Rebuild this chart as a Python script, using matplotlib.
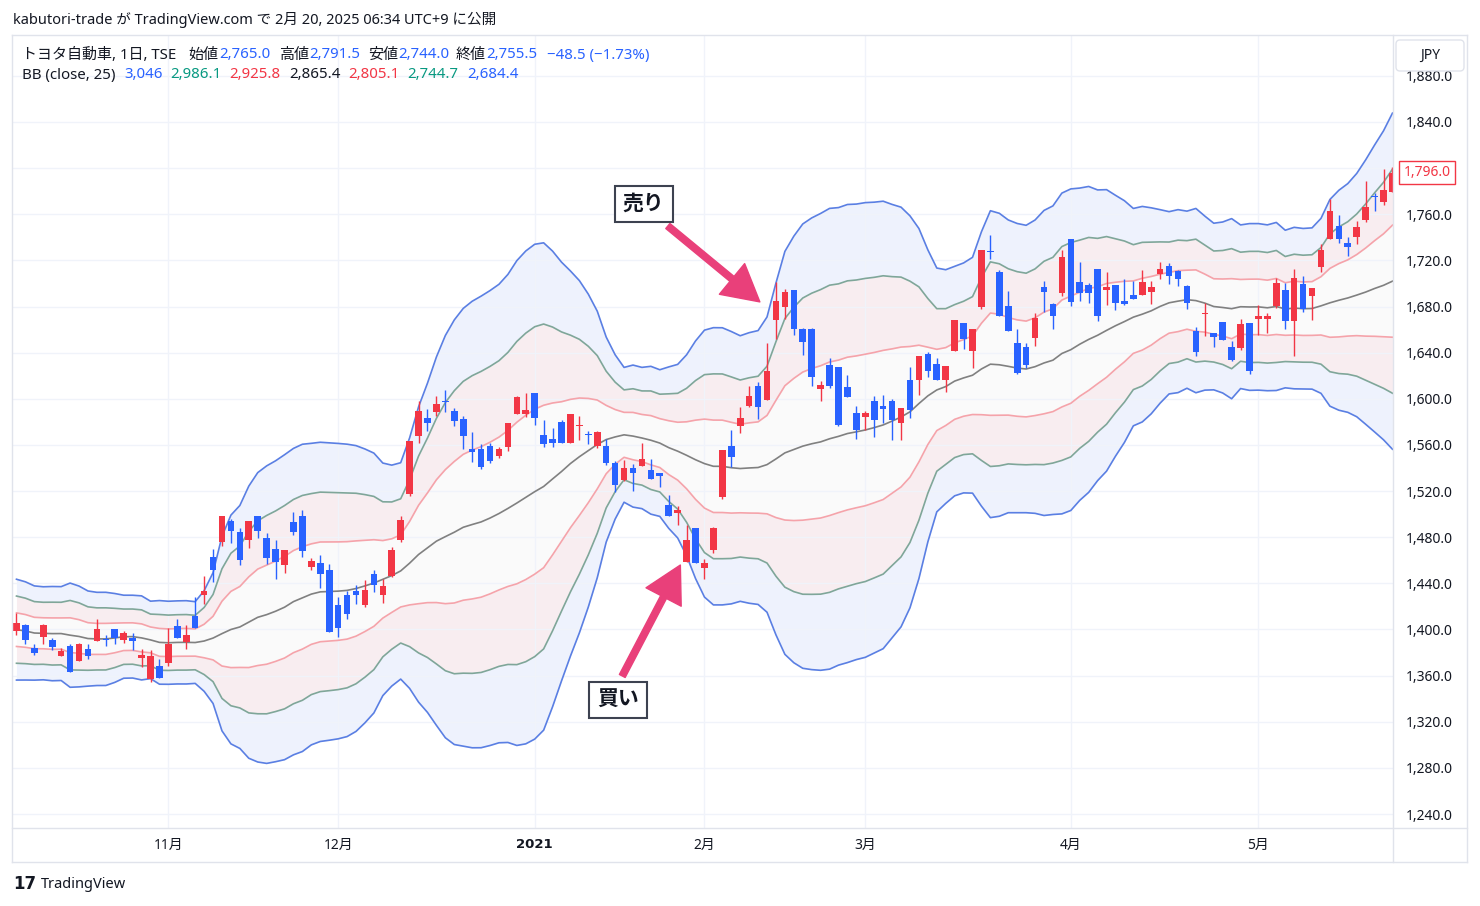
import numpy as np
import pandas as pd
import matplotlib
matplotlib.use("Agg")
import matplotlib.pyplot as plt
from matplotlib.lines import Line2D
from matplotlib.patches import FancyBboxPatch

plt.rcParams['font.family'] = ['Noto Sans', 'Noto Sans CJK JP']

W, H = 1480, 906

# closes before the visible window (only used to seed the 25-day bands)
preClose = [1418, 1425, 1410, 1392, 1380, 1398, 1415, 1422, 1408, 1390, 1372, 1370,
            1388, 1405, 1420, 1412, 1396, 1385, 1393, 1406, 1400, 1388, 1402, 1396]

opens = [1399, 1403.7, 1384, 1393.3, 1390.5, 1376.9, 1386.1, 1372.5, 1383.3, 1389.9,
         1391.4, 1400, 1391.1, 1392.5, 1375.5, 1357.3, 1368, 1370.8, 1403.2, 1389,
         1412.1, 1430.1, 1462.7, 1475.7, 1493.9, 1484.4, 1477.8, 1498, 1479.2, 1470,
         1455.5, 1493.6, 1498.8, 1454.6, 1457.8, 1452, 1420.8, 1429.5, 1433.8, 1421.4,
         1448.3, 1430.1, 1446.8, 1478, 1517.7, 1567.6, 1583.5, 1588.4, 1598.2, 1589,
         1582.7, 1556.7, 1556.7, 1559.5, 1550, 1558, 1586.4, 1586.4, 1604.9, 1568.2,
         1565.3, 1580.3, 1561.9, 1576.5, 1569.1, 1559.5, 1559.5, 1544.5, 1529.8, 1540.2,
         1541.6, 1538.7, 1535.5, 1507.5, 1500.8, 1458.3, 1488.2, 1453.5, 1468.5, 1514.5,
         1558.7, 1576.3, 1593.9, 1611, 1599.2, 1668.4, 1679.6, 1693.9, 1660.6, 1660.6,
         1608.8, 1629.5, 1628, 1610.1, 1587.8, 1584.1, 1598.5, 1593.6, 1598.5, 1579.4,
         1616.7, 1615.9, 1638.5, 1630.4, 1616.6, 1641.2, 1666.1, 1641.2, 1679.3, 1728.2,
         1710, 1680.5, 1648.3, 1644.9, 1653.1, 1696.7, 1682.2, 1691.5, 1738.8, 1701,
         1698.6, 1712.9, 1694.2, 1698.6, 1685.2, 1689.7, 1689.7, 1692.7, 1708.1, 1715,
         1710.8, 1697.6, 1659, 1673.5, 1656.9, 1666.4, 1644.9, 1644.2, 1665.5, 1669.3,
         1669.3, 1680.3, 1693.9, 1667.3, 1699.9, 1689.2, 1714.6, 1738.6, 1749.8, 1735.4,
         1740, 1754.9, 1775.8, 1770.3, 1779]
highs = [1414, 1405, 1387, 1405, 1392.8, 1384.1, 1387, 1388.4, 1387, 1408.7,
         1395.4, 1400, 1399, 1396.8, 1383.3, 1382.4, 1374, 1401.5, 1409.3, 1404.3,
         1428.6, 1446.8, 1470, 1498.8, 1496, 1488.2, 1493.9, 1498, 1483.5, 1477.8,
         1468.5, 1501.7, 1503.2, 1462.2, 1464.2, 1456.4, 1428.6, 1433.8, 1439, 1442.5,
         1451.2, 1444, 1471.4, 1498, 1563, 1598, 1591.3, 1602.3, 1607.8, 1592.2,
         1584.7, 1571, 1561, 1561.5, 1558, 1578.9, 1602.3, 1604.9, 1604.9, 1581.2,
         1574.5, 1581.2, 1586.4, 1585.5, 1572.5, 1572.5, 1565.3, 1546.5, 1547.1, 1543.1,
         1561.9, 1548, 1535.5, 1516.2, 1506.9, 1491, 1488.2, 1461.5, 1489, 1556,
         1572.6, 1593.3, 1611, 1614.2, 1648.3, 1701, 1694.8, 1693.9, 1661.3, 1661.3,
         1615, 1635.6, 1628, 1621, 1593.6, 1589, 1602, 1603.1, 1599.4, 1592.2,
         1627.4, 1636.7, 1640.4, 1635.3, 1628.7, 1667.9, 1666.1, 1660.6, 1729, 1742,
         1711.5, 1693.5, 1660.6, 1648.3, 1674, 1702.5, 1683.3, 1729, 1738.8, 1718.9,
         1700.6, 1712.9, 1709.5, 1698.6, 1703.6, 1702.5, 1711.7, 1702.5, 1718.3, 1718,
         1712, 1699, 1662, 1683.3, 1656.9, 1666.4, 1649.8, 1669.4, 1665.5, 1681.6,
         1674.5, 1704.9, 1700, 1712.9, 1706.3, 1695.8, 1734.2, 1773, 1759.4, 1740.6,
         1754.4, 1789.1, 1778.2, 1799, 1801]
lows = [1395, 1387.6, 1378, 1387, 1382.4, 1376.9, 1363, 1372.5, 1374.8, 1389.9,
        1386.1, 1387.6, 1388.6, 1382.4, 1367.4, 1354.3, 1358.1, 1368.2, 1392.8, 1383.3,
        1401.5, 1422.3, 1441, 1472.8, 1474.8, 1455.5, 1470.5, 1479.2, 1456.4, 1443.4,
        1448.8, 1482.1, 1462.7, 1451.8, 1436.2, 1397.7, 1393.9, 1408.7, 1422.3, 1419.9,
        1432.3, 1422.8, 1445.3, 1475.7, 1515.6, 1561.5, 1571.9, 1585.5, 1588.4, 1576,
        1556.7, 1545, 1539.3, 1544.2, 1548.5, 1554.6, 1586.4, 1584.1, 1576.9, 1558.1,
        1558.1, 1561.5, 1561.9, 1564.7, 1561, 1557.5, 1542.2, 1519.1, 1528.6, 1519.9,
        1541.6, 1530.7, 1523.4, 1498.2, 1491, 1458.3, 1457.5, 1443.4, 1466, 1513.3,
        1541.3, 1570.2, 1593, 1582.7, 1599.2, 1651.5, 1668.8, 1655.5, 1638.1, 1611.5,
        1597.7, 1609.6, 1576, 1601.4, 1565.3, 1572.6, 1566.8, 1579.4, 1564.4, 1564.4,
        1583.5, 1602.9, 1619.3, 1616.6, 1606, 1641.2, 1643.6, 1626.6, 1677.9, 1721,
        1671.6, 1659.1, 1621.6, 1626.6, 1646, 1675.6, 1660.2, 1689.2, 1680.1, 1685.2,
        1683.3, 1667.7, 1681.5, 1677, 1680.9, 1686.6, 1689.7, 1682.5, 1703.8, 1699.6,
        1698, 1678, 1637.5, 1654.4, 1644.9, 1650.6, 1632.4, 1642.7, 1621.6, 1655,
        1656.7, 1678.9, 1660.7, 1637.3, 1674.9, 1668.3, 1709.5, 1738.6, 1735.4, 1724.1,
        1734.4, 1753.5, 1763, 1768, 1779]
closes = [1405.5, 1390.5, 1379.5, 1404.3, 1384.7, 1381.2, 1363, 1387, 1376.9, 1400,
          1390.5, 1392.5, 1396.8, 1389.9, 1377.5, 1376.6, 1358.1, 1387.6, 1392.8, 1394.8,
          1401.5, 1433, 1451.8, 1498.8, 1485.2, 1460.4, 1493.9, 1485.2, 1462.2, 1458.4,
          1468.5, 1484.4, 1467.9, 1459, 1448.3, 1397.7, 1401.1, 1413, 1430.3, 1434.4,
          1438.8, 1438.1, 1468.5, 1494.5, 1563, 1589, 1578.9, 1595.1, 1597, 1580.6,
          1567.6, 1553.7, 1541.3, 1546.5, 1556.1, 1578.9, 1601.4, 1589.9, 1583.2, 1561,
          1561.5, 1561.5, 1586.4, 1577.5, 1568.2, 1571, 1544.2, 1525.5, 1540.2, 1535.5,
          1547.4, 1530.7, 1533.5, 1498.2, 1504, 1478, 1457.5, 1457.5, 1488.4, 1555.2,
          1549.4, 1583.2, 1602.3, 1593, 1623.7, 1684.6, 1692.8, 1660.6, 1649.6, 1619.3,
          1612.1, 1611.5, 1577.7, 1601.4, 1572.6, 1587.5, 1582, 1591.3, 1582, 1592.2,
          1590.4, 1636.7, 1624, 1616.6, 1628.7, 1667.9, 1652, 1660.6, 1729, 1727.3,
          1671.6, 1659.1, 1622.8, 1629.5, 1669.9, 1692.4, 1671.8, 1722.7, 1683.6, 1691.5,
          1691.5, 1671.8, 1697.1, 1682.8, 1682.4, 1686.6, 1700.9, 1697, 1712.5, 1706.5,
          1703.8, 1683.3, 1641, 1674.3, 1653.5, 1650.6, 1633.3, 1665, 1624.4, 1672.2,
          1672.2, 1700.6, 1667.3, 1704.3, 1678, 1695.8, 1729, 1762.9, 1738.6, 1732,
          1748.6, 1766.6, 1774.7, 1781.3, 1796]

monthIdx = [17, 36, 58, 77, 95, 118, 139]
monthLabels = ['11月', '12月', '2021', '2月', '3月', '4月', '5月']

# Bollinger bands, 25 days, 1/2/3 sigma
allClose = pd.Series(preClose + closes)
mid = allClose.rolling(25).mean().iloc[len(preClose):].to_numpy()
sd = allClose.rolling(25).std(ddof=0).iloc[len(preClose):].to_numpy()

o = np.array(opens)
h = np.array(highs)
l = np.array(lows)
c = np.array(closes)
x = np.arange(len(c))

UP = '#F23645'
DOWN = '#2962FF'
DARK = '#131722'
GREEN = '#089981'

fig = plt.figure(figsize=(W / 100, H / 100), dpi=100)
ax = fig.add_axes([13 / W, 1 - 828 / H, 1380 / W, 793 / H])

# band fills
ax.fill_between(x, mid - sd, mid + sd, color='#FAFAFA', lw=0, zorder=1)
ax.fill_between(x, mid + sd, mid + 2 * sd, color='#F8EDF0', lw=0, zorder=1)
ax.fill_between(x, mid - 2 * sd, mid - sd, color='#F8EDF0', lw=0, zorder=1)
ax.fill_between(x, mid + 2 * sd, mid + 3 * sd, color='#EEF2FD', lw=0, zorder=1)
ax.fill_between(x, mid - 3 * sd, mid - 2 * sd, color='#EEF2FD', lw=0, zorder=1)

ax.plot(x, mid, color='#808080', lw=1.2, zorder=2)
for k, col in [(1, '#F5A3AA'), (2, '#7FA699'), (3, '#5A7FE3')]:
    ax.plot(x, mid + k * sd, color=col, lw=1.2, zorder=2)
    ax.plot(x, mid - k * sd, color=col, lw=1.2, zorder=2)

# candles
cols = np.where(c >= o, UP, DOWN)
ax.vlines(x, l, h, colors=cols, lw=1, zorder=3)
ax.bar(x, np.maximum(np.abs(c - o), 0.9), bottom=np.minimum(o, c), width=0.74,
       color=cols, lw=0, zorder=4)

ax.set_xlim(-0.39, 154.06)
ax.set_ylim(1227.9, 1915.4)

yt = list(range(1240, 1881, 40))
ax.set_yticks(yt)
ax.set_yticklabels([f'{v:,.1f}' for v in yt])
ax.yaxis.tick_right()
ax.tick_params(axis='y', length=0, pad=9, labelsize=10, labelcolor=DARK)
ax.set_xticks(monthIdx)
ax.set_xticklabels(monthLabels)
ax.tick_params(axis='x', length=0, pad=7, labelsize=10, labelcolor=DARK)
yearLabel = ax.xaxis.get_major_ticks()[2].label1
yearLabel.set_family('DejaVu Sans')
yearLabel.set_fontweight('bold')
yearLabel.set_fontsize(9.5)
ax.set_axisbelow('line')
ax.grid(True, color='#F0F3FA', lw=1)
for s in ax.spines.values():
    s.set_visible(False)

# last price tag
ax.text(1.0075, c[-1], f'{c[-1]:,.1f}', transform=ax.get_yaxis_transform(), ha='left',
        va='center', color=UP, fontsize=10, zorder=10, clip_on=False,
        bbox=dict(boxstyle='square,pad=0.3', fc='white', ec=UP, lw=1))

# annotations
sellTip, sellTail, sellBox = (83.2, 1684.0), (72.9, 1749.8), (70.2, 1768.9)
buyTip, buyTail, buyBox = (74.3, 1455.9), (67.8, 1359.7), (67.3, 1338.9)
arrowStyle = dict(arrowstyle='simple,head_length=1.0,head_width=1.1,tail_width=0.18',
                  color='#E9407A', mutation_scale=26, shrinkA=0, shrinkB=0)
ax.annotate('', xy=sellTip, xytext=sellTail, arrowprops=arrowStyle, zorder=6)
ax.annotate('', xy=buyTip, xytext=buyTail, arrowprops=arrowStyle, zorder=6)
boxStyle = dict(boxstyle='square,pad=0.38', fc='white', ec='#3D4250', lw=1.5)
ax.text(*sellBox, '売り', ha='center', va='center', fontsize=15, fontweight='bold',
        color=DARK, bbox=boxStyle, zorder=7)
ax.text(*buyBox, '買い', ha='center', va='center', fontsize=15, fontweight='bold',
        color=DARK, bbox=boxStyle, zorder=7)

# frame lines
frameCol = '#E0E3EB'
def figLine(xs, ys):
    fig.add_artist(Line2D([v / W for v in xs], [1 - v / H for v in ys], color=frameCol, lw=1))
figLine([12, 1467], [35, 35])
figLine([12, 1467], [862, 862])
figLine([12, 12], [35, 862])
figLine([1467, 1467], [35, 862])
figLine([1393, 1393], [35, 862])
figLine([12, 1467], [828, 828])

jpy = FancyBboxPatch((1396, H - 71), 68, 31, boxstyle='round,pad=0,rounding_size=4',
                     transform=None, fc='white', ec=frameCol, lw=1, zorder=20)
fig.add_artist(jpy)
fig.text(1430 / W, 1 - 55 / H, 'JPY', ha='center', va='center', fontsize=10, color=DARK, zorder=21)

# texts
fig.text(13 / W, 1 - 20 / H, 'kabutori-trade が TradingView.com で 2月 20, 2025 06:34 UTC+9 に公開',
         fontsize=10.5, color=DARK, va='center')

line1 = [(22, 'トヨタ自動車, 1日, TSE', DARK), (188, '始値', DARK), (219, '2,765.0', DOWN),
         (279, '高値', DARK), (309, '2,791.5', DOWN), (368, '安値', DARK), (398, '2,744.0', DOWN),
         (456, '終値', DARK), (486, '2,755.5', DOWN), (547, '−48.5 (−1.73%)', DOWN)]
line2 = [(22, 'BB (close, 25)', DARK), (124, '3,046', DOWN), (170, '2,986.1', GREEN),
         (229, '2,925.8', UP), (289, '2,865.4', DARK), (348, '2,805.1', UP),
         (407, '2,744.7', GREEN), (467, '2,684.4', DOWN)]
for yy, segs in [(55, line1), (75, line2)]:
    for xx, s, col in segs:
        fig.text(xx / W, 1 - yy / H, s, fontsize=10.8, color=col, va='center', ha='left')

fig.text(13 / W, 1 - 884 / H, '17', fontsize=12, fontweight='bold', color=DARK, va='center',
         family='DejaVu Sans')
fig.text(41 / W, 1 - 884 / H, 'TradingView', fontsize=10.5, color=DARK, va='center')

fig.savefig('out.png', dpi=100, facecolor='white')
